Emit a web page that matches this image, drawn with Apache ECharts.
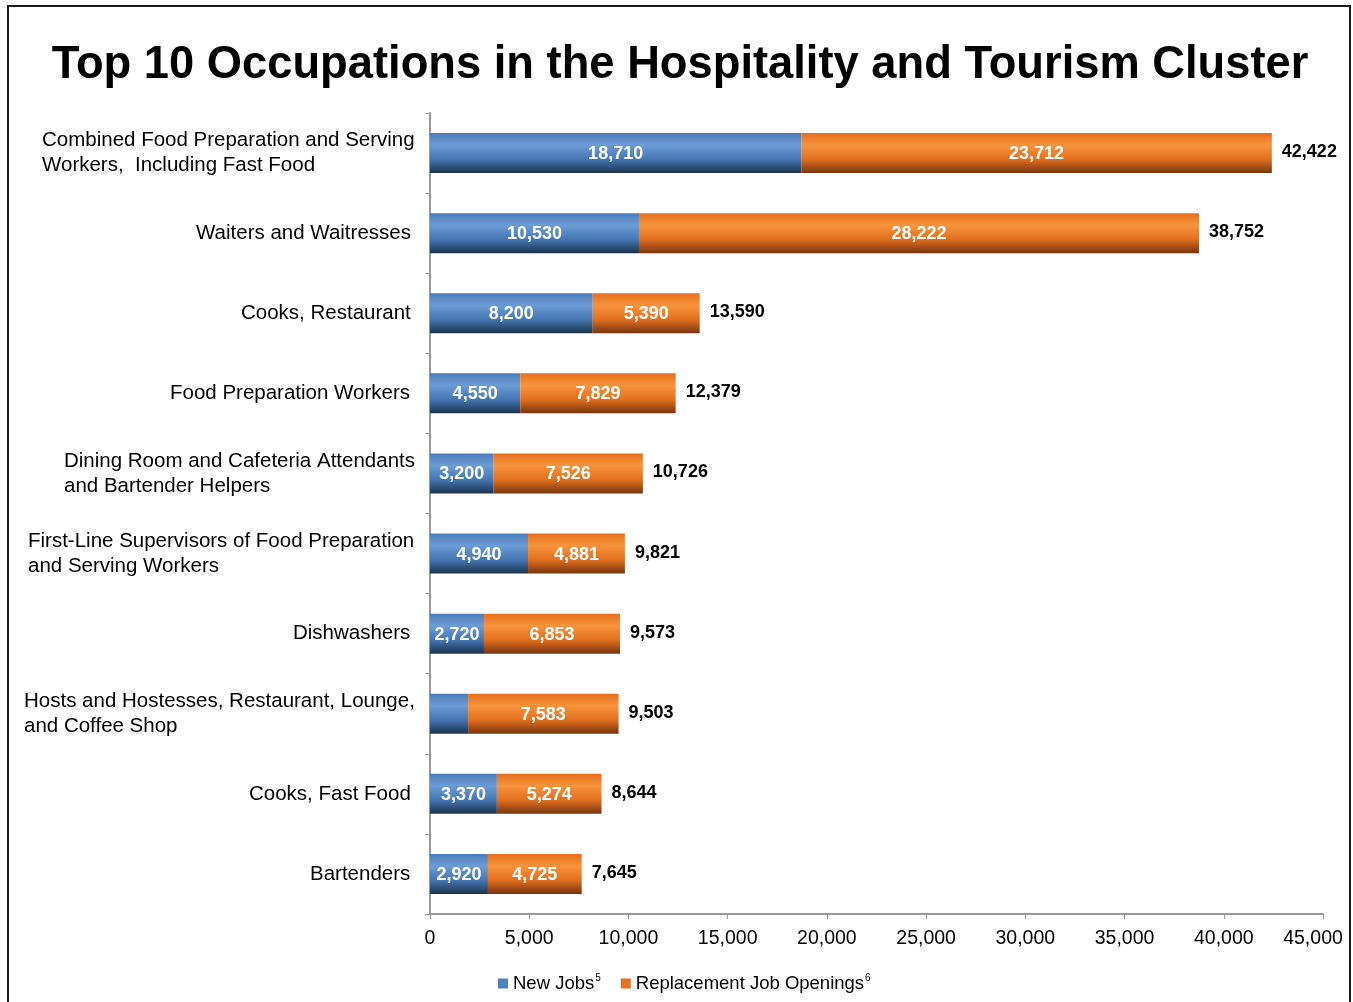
<!DOCTYPE html>
<html>
<head>
<meta charset="utf-8">
<script src="https://cdn.jsdelivr.net/npm/echarts@6/dist/echarts.min.js"></script>
<style>
html,body{margin:0;padding:0;background:#fff;}
#chart{width:1353px;height:1002px;}
#frame{position:absolute;left:7px;top:5px;width:1344px;height:1000px;border:2px solid #1a1a1a;box-sizing:border-box;pointer-events:none;}
</style>
</head>
<body>
<div id="chart"></div>
<div id="frame"></div>
<script>
const categories = [
  "Combined Food Preparation and Serving\nWorkers,  Including Fast Food",
  "Waiters and Waitresses",
  "Cooks, Restaurant",
  "Food Preparation Workers",
  "Dining Room and Cafeteria Attendants\nand Bartender Helpers",
  "First-Line Supervisors of Food Preparation\nand Serving Workers",
  "Dishwashers",
  "Hosts and Hostesses, Restaurant, Lounge,\nand Coffee Shop",
  "Cooks, Fast Food",
  "Bartenders"
];
const newJobs = [18710, 10530, 8200, 4550, 3200, 4940, 2720, 1920, 3370, 2920];
const replacementJobs = [23712, 28222, 5390, 7829, 7526, 4881, 6853, 7583, 5274, 4725];
const totals = [42422, 38752, 13590, 12379, 10726, 9821, 9573, 9503, 8644, 7645];
const hiddenNewJobLabels = [7];
const xTicks = [0, 5000, 10000, 15000, 20000, 25000, 30000, 35000, 40000, 45000];

const fmt = v => Number(v).toLocaleString('en-US');
const FF = '"Liberation Sans", Arial, sans-serif';
const labelSize = 20.5;

// measure multi-line labels so each block is left-aligned internally and right-aligned to the axis
const cv = document.createElement('canvas').getContext('2d');
cv.font = labelSize + 'px ' + FF;
const rich = {};
categories.forEach((c, i) => {
  const lines = c.split('\n');
  const w = Math.ceil(Math.max(...lines.map(l => cv.measureText(l).width)));
  rich['c' + i] = { width: w, align: 'left', fontSize: labelSize, lineHeight: 25, color: '#000', fontFamily: FF,
                    padding: lines.length > 1 ? [0, 0, 0, 0] : [0, 4, 0, 0] };
});

const blueGrad = new echarts.graphic.LinearGradient(0, 0, 0, 1, [
  {offset: 0, color: '#4a7cba'},
  {offset: 0.3, color: '#6b9cd5'},
  {offset: 0.65, color: '#4677b4'},
  {offset: 1, color: '#1b3350'}
]);
const orangeGrad = new echarts.graphic.LinearGradient(0, 0, 0, 1, [
  {offset: 0, color: '#e56f1c'},
  {offset: 0.3, color: '#f8943c'},
  {offset: 0.65, color: '#e2701f'},
  {offset: 1, color: '#78340f'}
]);

const chart = echarts.init(document.getElementById('chart'));
chart.setOption({
  animation: false,
  title: {
    text: 'Top 10 Occupations in the Hospitality and Tourism Cluster',
    left: 675,
    textAlign: 'center',
    top: 38,
    textStyle: { fontFamily: FF, fontWeight: 'bold', fontSize: 45.3, color: '#000' }
  },
  legend: {
    bottom: 4,
    left: 493,
    itemWidth: 10,
    itemHeight: 10,
    itemGap: 20,
    icon: 'rect',
    data: [
      {name: 'New Jobs', itemStyle: {color: '#4f81bd'}},
      {name: 'Replacement Job Openings', itemStyle: {color: '#e8731f'}}
    ],
    formatter: n => n === 'New Jobs' ? '{t|New Jobs}{s|5}' : '{t|Replacement Job Openings}{s|6}',
    textStyle: {
      rich: {
        t: {fontSize: 18.5, color: '#000', fontFamily: FF},
        s: {fontSize: 10, color: '#000', padding: [0, 0, 10, 1], fontFamily: FF}
      }
    }
  },
  grid: { left: 430, right: 30, top: 113, bottom: 88, containLabel: false },
  xAxis: {
    type: 'value',
    min: xTicks[0],
    max: xTicks[xTicks.length - 1],
    interval: 5000,
    axisLine: {show: true, lineStyle: {color: '#999', width: 2}},
    axisTick: {show: true, length: 5, lineStyle: {color: '#999'}},
    splitLine: {show: false},
    axisLabel: {
      formatter: v => v === xTicks[xTicks.length - 1] ? '{last|' + fmt(v) + '}' : fmt(v),
      fontSize: 19.5, color: '#000', margin: 15,
      fontFamily: FF,
      rich: { last: { fontSize: 19.5, color: '#000', fontFamily: FF, padding: [0, 20, 0, 0] } }
    }
  },
  yAxis: {
    type: 'category',
    inverse: true,
    data: categories,
    axisLine: {show: true, lineStyle: {color: '#999', width: 2}},
    axisTick: {show: true, length: 5, lineStyle: {color: '#999'}},
    axisLabel: {
      margin: 15,
      formatter: (v, i) => v.split('\n').map(l => '{c' + i + '|' + l + '}').join('\n'),
      rich: rich
    }
  },
  series: [
    {
      name: 'New Jobs',
      type: 'bar',
      stack: 'total',
      barWidth: 40,
      data: newJobs.map((v, i) => ({
        value: v,
        label: {show: !hiddenNewJobLabels.includes(i)}
      })),
      itemStyle: {color: blueGrad},
      label: {
        show: true, position: 'inside', formatter: p => fmt(p.value),
        color: '#fff', fontWeight: 'bold', fontSize: 18, offset: [0, 1],
        fontFamily: FF
      }
    },
    {
      name: 'Replacement Job Openings',
      type: 'bar',
      stack: 'total',
      barWidth: 40,
      data: replacementJobs,
      itemStyle: {color: orangeGrad},
      label: {
        show: true, position: 'inside', formatter: p => fmt(p.value),
        color: '#fff', fontWeight: 'bold', fontSize: 18, offset: [0, 1],
        fontFamily: FF
      }
    },
    {
      name: 'Total',
      type: 'bar',
      stack: 'total',
      barWidth: 40,
      data: totals.map(() => 0),
      itemStyle: {color: 'transparent'},
      label: {
        show: true, position: 'right', distance: 10,
        formatter: p => fmt(totals[p.dataIndex]),
        color: '#000', fontWeight: 'bold', fontSize: 18, offset: [0, -1],
        fontFamily: FF
      }
    }
  ]
});
</script>
</body>
</html>
